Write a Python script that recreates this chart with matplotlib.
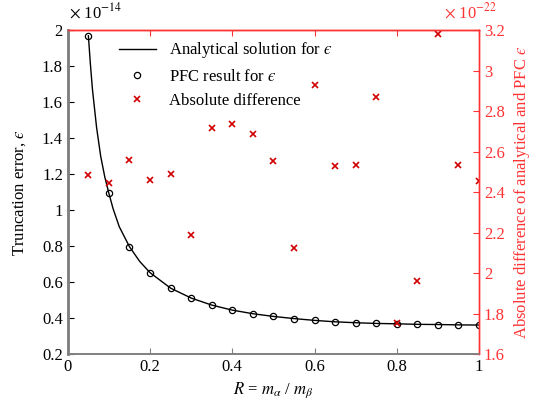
import numpy as np
import matplotlib
matplotlib.use('Agg')
from matplotlib import pyplot as plt
from matplotlib.ticker import FuncFormatter

plt.rcParams['font.family'] = ['Liberation Serif', 'STIXGeneral']
plt.rcParams['mathtext.fontset'] = 'stix'
plt.rcParams['font.size'] = 12

# mass ratio R for the PFC runs
R = [0.05, 0.1, 0.15, 0.2, 0.25, 0.3, 0.35, 0.4, 0.45, 0.5,
     0.55, 0.6, 0.65, 0.7, 0.75, 0.8, 0.85, 0.9, 0.95, 1.0]
# PFC truncation error, units of 1e-14
eps_pfc = [1.97, 1.094, 0.798, 0.654, 0.568, 0.513, 0.474, 0.446, 0.426, 0.411,
           0.399, 0.389, 0.381, 0.376, 0.372, 0.370, 0.367, 0.366, 0.364, 0.363]
# analytical curve, units of 1e-14
R_curve = [0.05, 0.055, 0.06, 0.07, 0.08, 0.09, 0.1, 0.11, 0.125, 0.15, 0.175,
           0.2, 0.25, 0.3, 0.35, 0.4, 0.45, 0.5, 0.55, 0.6, 0.65, 0.7, 0.75,
           0.8, 0.85, 0.9, 0.95, 1.0]
eps_curve = [1.97, 1.81, 1.67, 1.46, 1.30, 1.185, 1.094, 1.01, 0.91, 0.798, 0.716,
             0.654, 0.568, 0.513, 0.474, 0.446, 0.426, 0.411, 0.399, 0.389, 0.381,
             0.376, 0.372, 0.370, 0.367, 0.366, 0.364, 0.363]
# absolute difference, units of 1e-22
abs_diff = [2.484, 2.448, 2.560, 2.463, 2.492, 2.189, 2.716, 2.736, 2.686, 2.553,
            2.127, 2.932, 2.528, 2.537, 2.871, 1.753, 1.962, 3.184, 2.533, 2.458]

red = '#ff3333'
gray = '#808080'
eps = '$\u03f5$'

fig = plt.figure(figsize=(5.34, 4.0), dpi=100)
ax = fig.add_axes([0.127, 0.114, 0.770, 0.810])
ax2 = ax.twinx()

l1, = ax.plot(R_curve, eps_curve, color='black', lw=1.0, label='Analytical solution for ' + eps)
l2, = ax.plot(R, eps_pfc, 'o', mfc='none', mec='black', ms=4.5, mew=0.9, label='PFC result for ' + eps)
l3, = ax2.plot(R, abs_diff, 'x', color='#d00000', ms=4, mew=1.2, label='Absolute difference')

ax.set_xlim(0, 1)
ax.set_ylim(0.2, 2)
ax2.set_ylim(1.6, 3.2)
ax.set_xticks(np.arange(0, 1.01, 0.2))
ax.set_yticks(np.arange(0.2, 2.01, 0.2))
ax2.set_yticks(np.arange(1.6, 3.21, 0.2))
fmt = FuncFormatter(lambda v, p: '%g' % round(v, 2))
ax.xaxis.set_major_formatter(fmt)
ax.yaxis.set_major_formatter(fmt)
ax2.yaxis.set_major_formatter(fmt)

ax.tick_params(direction='in', length=4, color='black', width=0.8)
ax.tick_params(axis='x', color=gray)
ax2.tick_params(direction='in', length=4, colors=red, width=0.8)

for a in (ax, ax2):
    a.spines['left'].set_color(gray)
    a.spines['left'].set_linewidth(1.8)
    a.spines['bottom'].set_color(gray)
    a.spines['bottom'].set_linewidth(1.2)
    a.spines['top'].set_color(red)
    a.spines['top'].set_linewidth(1.0)
    a.spines['right'].set_color(red)
    a.spines['right'].set_linewidth(1.0)

top = ax.secondary_xaxis('top')
top.set_xticks(np.arange(0, 1.01, 0.2))
top.tick_params(direction='in', length=4, colors=red, labeltop=False)
top.spines['top'].set_color(red)

ax.set_xlabel(r'$R$ = $m_\alpha$ / $m_\beta$', labelpad=4)
ax.set_ylabel('Truncation error, ' + eps, labelpad=10)
ax2.set_ylabel('Absolute difference of analytical and PFC ' + eps, color=red, labelpad=5)

fig.text(0.129, 0.945, r'$\times$ 10$^{-14}$', fontsize=12, ha='left', va='bottom')
fig.text(0.93, 0.945, r'$\times$ 10$^{-22}$', fontsize=12, ha='right', va='bottom', color=red)

ax.legend(handles=[l1, l2, l3], loc='upper left', bbox_to_anchor=(0.1, 1.0),
          frameon=False, handlelength=2.2, labelspacing=0.5, borderaxespad=0.2)

fig.savefig('out.png', dpi=100)
